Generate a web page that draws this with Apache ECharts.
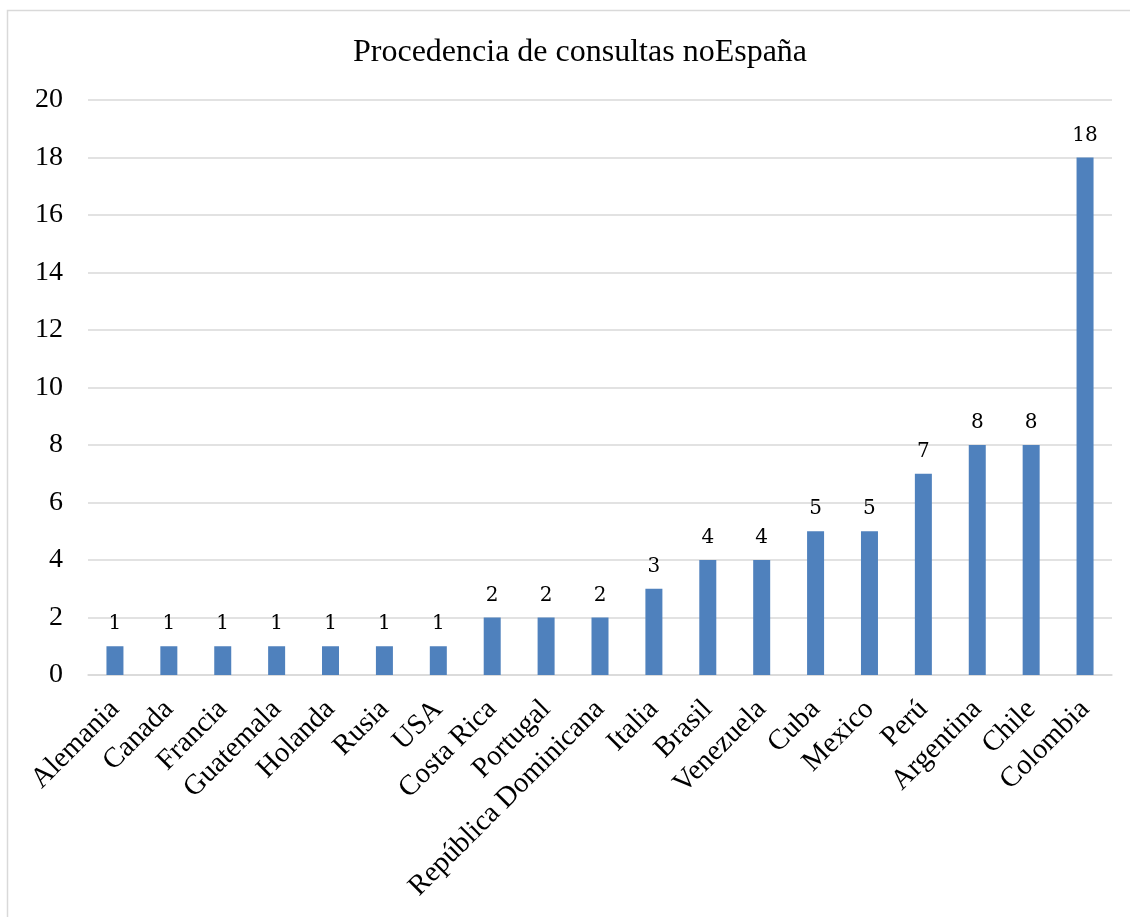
<!DOCTYPE html>
<html>
<head>
<meta charset="utf-8">
<script src="https://cdn.jsdelivr.net/npm/echarts@6/dist/echarts.min.js"></script>
<style>html,body{margin:0;padding:0;background:#fff}#c{width:1130px;height:917px}</style>
</head>
<body>
<div id="c"></div>
<script>
const titleText = "Procedencia de consultas noEspaña";
const categories = ["Alemania","Canada","Francia","Guatemala","Holanda","Rusia","USA","Costa Rica","Portugal","República Dominicana","Italia","Brasil","Venezuela","Cuba","Mexico","Perú","Argentina","Chile","Colombia"];
const values = [1,1,1,1,1,1,1,2,2,2,3,4,4,5,5,7,8,8,18];
const yMin = 0, yMax = 20, yStep = 2;

const chart = echarts.init(document.getElementById('c'));
chart.setOption({
  animation: false,
  backgroundColor: '#fff',
  graphic: [{
    type: 'rect', shape: {x: 7.5, y: 10.5, width: 1140, height: 930},
    style: {fill: 'none', stroke: '#d9d9d9', lineWidth: 1.5}, silent: true
  }],
  title: {
    text: titleText, left: 348, top: 32,
    textStyle: {fontFamily: 'Liberation Serif', fontSize: 32, fontWeight: 'normal', color: '#000'}
  },
  grid: {left: 88, right: 18, top: 100, bottom: 242, containLabel: false},
  xAxis: {
    type: 'category', data: categories,
    axisLine: {show: true, lineStyle: {color: '#d9d9d9', width: 1.5}},
    axisTick: {show: false},
    axisLabel: {rotate: 45, interval: 0, margin: 30, fontFamily: 'Liberation Serif', fontSize: 28.7, color: '#000'}
  },
  yAxis: {
    type: 'value', min: yMin, max: yMax, interval: yStep,
    axisLine: {show: false}, axisTick: {show: false},
    splitLine: {lineStyle: {color: '#d9d9d9', width: 1.5}},
    axisLabel: {margin: 25, fontFamily: 'Liberation Serif', fontSize: 28, color: '#000'}
  },
  series: [{
    type: 'bar', data: values, barWidth: 17,
    itemStyle: {color: '#4F81BD'},
    label: {show: true, position: 'top', distance: 12, fontFamily: 'DejaVu Serif', fontSize: 20, color: '#000'}
  }]
});
</script>
</body>
</html>
